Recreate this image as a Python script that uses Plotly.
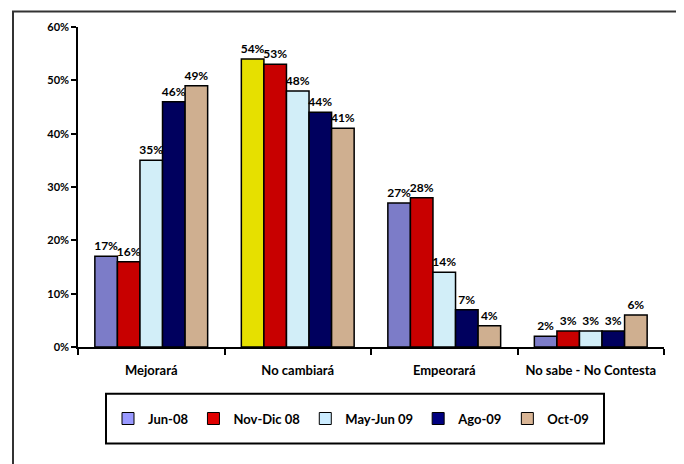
import plotly.graph_objects as go

categories = ["Mejorará", "No cambiará", "Empeorará", "No sabe - No Contesta"]
series_names = ["Jun-08", "Nov-Dic 08", "May-Jun 09", "Ago-09", "Oct-09"]
jun08 = [0.17, 0.54, 0.27, 0.02]
novdic08 = [0.16, 0.53, 0.28, 0.03]
mayjun09 = [0.35, 0.48, 0.14, 0.03]
ago09 = [0.46, 0.44, 0.07, 0.03]
oct09 = [0.49, 0.41, 0.04, 0.06]
series_values = [jun08, novdic08, mayjun09, ago09, oct09]
y_ticks = [0, 0.1, 0.2, 0.3, 0.4, 0.5, 0.6]

bar_colors = ["#7C7CC8", "#C80000", "#D2EEF8", "#00005E", "#CFAF90"]
legend_colors = ["#9999FF", "#E00000", "#CCECFF", "#000080", "#D9B595"]
highlight = {(0, 1): "#E6E000"}  # series index, category index

FONT = "Lato"

fig = go.Figure()
for si, (name, vals) in enumerate(zip(series_names, series_values)):
    cols = [highlight.get((si, ci), bar_colors[si]) for ci in range(len(categories))]
    fig.add_trace(go.Bar(
        name=name, x=categories, y=vals,
        marker=dict(color=cols, line=dict(color="#000000", width=1.5)),
        text=[f"{round(v*100)}%" for v in vals],
        textposition="outside", constraintext="none",
        textfont=dict(family=FONT, size=12, color="#000000", weight="bold"),
        cliponaxis=False,
        showlegend=False,
    ))
for si, name in enumerate(series_names):
    # legend entry with the plain swatch colour, on a hidden axis
    fig.add_trace(go.Bar(
        name=name, x=[None], y=[None], xaxis="x2", yaxis="y2",
        marker=dict(color=legend_colors[si], line=dict(color="#000000", width=1)),
        showlegend=True,
    ))

# page body has an 8px margin; work in screen pixels and convert
OFF = 8
W, H = 684 - OFF, 464 - OFF
L, T = 78 - OFF, 25 - OFF
R = W - (664 - OFF)
B = H - (347 - OFF)
pw, ph = W - L - R, H - T - B

def px_x(x):
    return (x - OFF - L) / pw

def px_y(y):
    return (H - B - (y - OFF)) / ph

fig.update_layout(
    width=W, height=H,
    margin=dict(l=L, r=R, t=T, b=B),
    paper_bgcolor="white", plot_bgcolor="white",
    barmode="group", bargap=0.23, bargroupgap=0,
    font=dict(family=FONT, color="#000000"),
    xaxis2=dict(overlaying="x", visible=False),
    yaxis2=dict(overlaying="y", visible=False),
    legend=dict(
        orientation="h", x=px_x(351), xanchor="center",
        y=px_y(419), yanchor="middle",
        font=dict(family=FONT, size=13, weight="bold"),
        bgcolor="rgba(0,0,0,0)", borderwidth=0,
        itemwidth=30, traceorder="normal",
    ),
    shapes=[
        dict(type="rect", xref="paper", yref="paper",
             x0=px_x(106), x1=px_x(604), y0=px_y(444), y1=px_y(394),
             line=dict(color="#000000", width=2), fillcolor="rgba(0,0,0,0)"),
        dict(type="rect", xref="paper", yref="paper",
             x0=px_x(13), x1=px_x(720), y0=px_y(500), y1=px_y(9.5),
             line=dict(color="#333333", width=2), fillcolor="rgba(0,0,0,0)"),
    ],
)
fig.update_layout(xaxis=dict(
    showline=True, linecolor="#000000", linewidth=2,
    ticks="outside", tickson="boundaries", ticklen=6, tickcolor="#000000", tickwidth=1.5,
    tickfont=dict(family=FONT, size=13, weight="bold"),
    showgrid=False, ticklabelstandoff=10,
))
fig.update_layout(yaxis=dict(
    range=[0, 0.6], tickvals=y_ticks, tickformat=".0%",
    showline=True, linecolor="#000000", linewidth=1.5,
    ticks="outside", ticklen=5, tickcolor="#000000", tickwidth=1.5,
    tickfont=dict(family=FONT, size=11, weight="bold"),
    showgrid=False, zeroline=False,
))

fig.write_html("out.html")
